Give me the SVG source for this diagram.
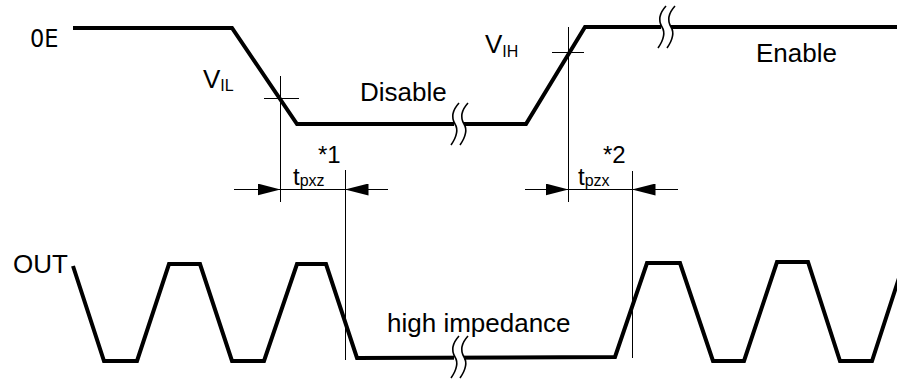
<svg xmlns="http://www.w3.org/2000/svg" width="897" height="382" viewBox="0 0 897 382">
<style>
.w{fill:none;stroke:#000;stroke-width:4;stroke-linejoin:miter}
.t{fill:none;stroke:#000;stroke-width:1}
.br{fill:none;stroke:#000;stroke-width:1.6}
.gap{fill:#fff;stroke:none}
text{font-family:"Liberation Sans",Arial,sans-serif;fill:#000}
.lbl{font-size:26px}
.sub{font-size:16px}
.tt{font-size:24px}
.oe{font-family:"DejaVu Sans Condensed","DejaVu Sans",sans-serif;font-stretch:condensed;font-size:25px}
</style>
<defs>
<marker id="ar" viewBox="0 0 23 12" refX="23" refY="6" markerWidth="23" markerHeight="12" markerUnits="userSpaceOnUse" orient="auto">
<path d="M0,0 L23,6 L0,12 Z" fill="#000"/>
</marker>
<g id="brk">
<rect class="gap" x="-1" y="-6" width="10" height="12"/>
<path class="br" d="M4,-21 Q-6,-10 0,0 Q5,8 -4,21"/>
<path class="br" d="M13,-21 Q3,-10 9,0 Q14,8 5,21"/>
</g>
</defs>

<g id="oe-signal">
<path class="w" d="M73,28 L232,28 L297,124 L526,124 L585,27 L897,27"/>
<use href="#brk" x="455" y="124"/>
<use href="#brk" x="662" y="27"/>
<text class="oe" x="30" y="47">0E</text>
</g>

<g id="out-signal">
<path class="w" d="M73,266 L104,361 L137,361 L169,264 L200,264 L232,361 L264,361 L297,264 L326,264 L357,358 L615,357 L647,263 L680,263 L713,361 L744,361 L777,262 L808,262 L840,361 L872,361 L899,278"/>
<use href="#brk" x="455" y="357"/>
<text class="lbl" x="13" y="273">OUT</text>
</g>

<g id="labels">
<text class="lbl" x="360" y="101">Disable</text>
<text class="lbl" x="756" y="62">Enable</text>
<text class="lbl" x="387" y="332">high impedance</text>
<text class="lbl" x="203" y="88">V<tspan class="sub" dy="3">IL</tspan></text>
<text class="lbl" x="485" y="53">V<tspan class="sub" dy="4">IH</tspan></text>
<text class="tt" x="293" y="185">t<tspan class="sub" dy="1">pxz</tspan></text>
<text class="tt" x="318" y="163">*1</text>
<text class="tt" x="578" y="185">t<tspan class="sub" dy="1">pzx</tspan></text>
<text class="tt" x="603" y="163">*2</text>
</g>

<g id="connectors">
<line class="t" x1="280.5" y1="76" x2="280.5" y2="202"/>
<line class="t" x1="264" y1="98.5" x2="299" y2="98.5"/>
<line class="t" x1="568.5" y1="27" x2="568.5" y2="202"/>
<line class="t" x1="552" y1="52.5" x2="584" y2="52.5"/>
<line class="t" x1="345.5" y1="170" x2="345.5" y2="360"/>
<line class="t" x1="632.5" y1="171" x2="632.5" y2="358"/>
<line class="t" x1="280.5" y1="189.5" x2="345.5" y2="189.5"/>
<line class="t" x1="568.5" y1="189.5" x2="632.5" y2="189.5"/>
<line class="t" x1="234" y1="189.5" x2="280.5" y2="189.5" marker-end="url(#ar)"/>
<line class="t" x1="388" y1="189.5" x2="345.5" y2="189.5" marker-end="url(#ar)"/>
<line class="t" x1="525" y1="189.5" x2="568.5" y2="189.5" marker-end="url(#ar)"/>
<line class="t" x1="678" y1="189.5" x2="632.5" y2="189.5" marker-end="url(#ar)"/>
</g>
</svg>
